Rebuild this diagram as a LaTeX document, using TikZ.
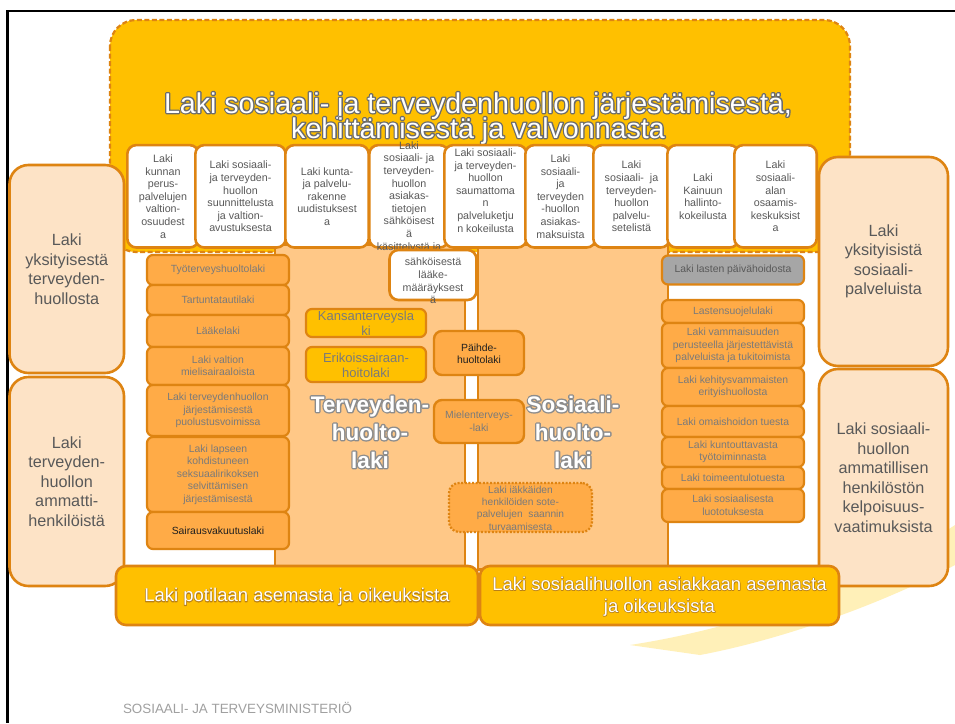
\documentclass[tikz,border=0pt]{standalone}
\usepackage{fontspec}
\setmainfont{Liberation Sans}
\definecolor{ylw}{HTML}{FFC000}
\definecolor{ob}{HTML}{DE8412}
\definecolor{lorg}{HTML}{FFC887}
\definecolor{morg}{HTML}{FFAB47}
\definecolor{peach}{HTML}{FDE3C6}
\definecolor{gbox}{HTML}{A6A6A6}
\definecolor{dgt}{HTML}{595959}
\definecolor{mgt}{HTML}{7A7A7A}
\definecolor{ftg}{HTML}{A0A0A0}
\definecolor{swoosh}{HTML}{FFF0B8}
% text with an outline outside the glyphs: stroked copy behind, filled copy on top
\newcommand\halo[3]{\rlap{\special{pdf:literal direct 1 Tr #1 w 1 j #2 RG}#3\special{pdf:literal direct 0 Tr 0.4 w 0 j}}#3}
\begin{document}
\begin{tikzpicture}[x=1pt,y=-1pt,
  every node/.style={inner sep=0pt, outer sep=0pt},
  bigframe/.style={draw=ob, line width=2.2pt, dash pattern=on 5pt off 2.5pt, fill=ylw, rounded corners=26pt},
  area/.style={draw=ob, line width=2.6pt, fill=lorg},
  topbox/.style={draw=ob, line width=2.6pt, fill=white, rounded corners=9pt, minimum height=102.4pt},
  toptxt/.style={align=center, text=dgt, font=\fontsize{10.7}{12.6}\selectfont},
  colbox/.style={draw=ob, line width=2.2pt, fill=morg, rounded corners=6pt, minimum width=142pt},
  coltxt/.style={align=center, text=mgt, font=\fontsize{10.4}{12.5}\selectfont},
  ybox/.style={draw=ob, line width=2.2pt, fill=ylw, rounded corners=6pt, minimum width=120pt},
  ytxt/.style={align=center, text=mgt, font=\fontsize{13}{14.7}\selectfont},
  obox/.style={draw=ob, line width=2.4pt, fill=morg, rounded corners=8pt, minimum width=90pt},
  side/.style={draw=ob, line width=2.6pt, fill=peach, rounded corners=19pt},
  sidetxt/.style={align=center, text=dgt, font=\fontsize{16.2}{19.5}\selectfont},
  bottom/.style={draw=ob, line width=2.6pt, fill=ylw, rounded corners=10pt, minimum height=59pt},
  bottxt/.style={align=center, text=white, font=\fontsize{18.5}{22}\selectfont},
  titlestyle/.style={anchor=base, text=white, font=\fontsize{28.6}{30}\selectfont},
  biglbl/.style={anchor=base, text=white, font=\bfseries\fontsize{22.5}{28}\selectfont}
]
\useasboundingbox (0,0) rectangle (955,723);
\fill[white] (0,0) rectangle (955,723);
% faint background swoosh
\fill[swoosh] (630,645) .. controls (760,625) and (880,575) .. (955,525) -- (955,565) .. controls (880,605) and (780,640) .. (700,655) -- cycle;
% frame lines
\draw[line width=2.6pt] (6,11) -- (955,11);
\draw[line width=3pt] (7.5,10) -- (7.5,723);

% big yellow frame
\draw[bigframe] (110,20) rectangle (850,252);

% title
\node[titlestyle] (ttl1) at (478,113) {\halo{2.6}{0.42 0.42 0.42}{Laki sosiaali- ja terveydenhuollon järjestämisestä,}};
\node[titlestyle] (ttl2) at (478,138) {\halo{2.6}{0.42 0.42 0.42}{kehittämisestä ja valvonnasta}};

% light orange areas
\node[area, minimum width=190pt, minimum height=325pt] (terv) at (370,407) {};
\node[area, minimum width=190pt, minimum height=325pt] (sos) at (573,407) {};

% top row boxes
\node[topbox, minimum width=71.4pt] (t1) at (163,196.3) {};
\node[topbox, minimum width=90.4pt] (t2) at (240.5,196.3) {};
\node[topbox, minimum width=83.4pt] (t3) at (327,196.3) {};
\node[topbox, minimum width=79.4pt] (t4) at (409,196.3) {};
\node[topbox, minimum width=82.4pt] (t5) at (485.5,196.3) {};
\node[topbox, minimum width=70.4pt] (t6) at (560.5,196.3) {};
\node[topbox, minimum width=76.4pt] (t7) at (631.5,196.3) {};
\node[topbox, minimum width=71.4pt] (t8) at (703,196.3) {};
\node[topbox, minimum width=82.4pt] (t9) at (775.5,196.3) {};

\node[toptxt] (t1x) at (163,196.5) {Laki\\kunnan\\perus-\\palvelujen\\valtion-\\osuudest\\a};
\node[toptxt] (t2x) at (240.5,196.5) {Laki sosiaali-\\ja terveyden-\\huollon\\suunnittelusta\\ja valtion-\\avustuksesta};
\node[toptxt] (t3x) at (327,196.5) {Laki kunta-\\ja palvelu-\\rakenne\\uudistuksest\\a};
\node[toptxt] (t4x) at (409,197) {Laki\\sosiaali- ja\\terveyden-\\huollon\\asiakas-\\tietojen\\sähköisest\\ä\\käsittelystä ja};
\node[toptxt] (t5x) at (485.5,190.5) {Laki sosiaali-\\ja terveyden-\\huollon\\saumattoma\\n\\palveluketju\\n kokeilusta};
\node[toptxt] (t6x) at (560.5,196.5) {Laki\\sosiaali-\\ja\\terveyden\\-huollon\\asiakas-\\maksuista};
\node[toptxt] (t7x) at (631.5,196.5) {Laki\\sosiaali-\ \ ja\\terveyden-\\huollon\\palvelu-\\setelistä};
\node[toptxt] (t8x) at (703,196.5) {Laki\\Kainuun\\hallinto-\\kokeilusta};
\node[toptxt] (t9x) at (775.5,196.5) {Laki\\sosiaali-\\alan\\osaamis-\\keskuksist\\a};

% box under t4
\node[topbox, minimum width=87pt, minimum height=50pt] (t10) at (433,275) {};
\node[toptxt] (t10x) at (433,281) {sähköisestä\\lääke-\\määräyksest\\ä};

% left column
\node[colbox, minimum height=30pt] (l1) at (218,270) {};
\node[coltxt] (l1x) at (l1) {Työterveyshuoltolaki};
\node[colbox, minimum height=30pt] (l2) at (218,300) {};
\node[coltxt] (l2x) at (l2) {Tartuntatautilaki};
\node[colbox, minimum height=32pt] (l3) at (218,331) {};
\node[coltxt] (l3x) at (l3) {Lääkelaki};
\node[colbox, minimum height=38pt] (l4) at (218,366) {};
\node[coltxt] (l4x) at (l4) {Laki valtion\\mielisairaaloista};
\node[colbox, minimum height=51pt] (l5) at (218,410.5) {};
\node[coltxt] (l5x) at (l5) {Laki terveydenhuollon\\järjestämisestä\\puolustusvoimissa};
\node[colbox, minimum height=75pt] (l6) at (218,474.5) {};
\node[coltxt] (l6x) at (l6) {Laki lapseen\\kohdistuneen\\seksuaalirikoksen\\selvittämisen\\järjestämisestä};
\node[colbox, minimum height=37pt] (l7) at (218,530.5) {};
\node[coltxt, text=black!88] (l7x) at (l7) {Sairausvakuutuslaki};

% right column
\node[colbox, fill=gbox, minimum height=29pt] (r0) at (733,270) {};
\node[coltxt, text=dgt] (r0x) at (r0) {Laki lasten päivähoidosta};
\node[colbox, minimum height=23pt] (r1) at (733,311.5) {};
\node[coltxt] (r1x) at (r1) {Lastensuojelulaki};
\node[colbox, minimum height=45pt] (r2) at (733,345.5) {};
\node[coltxt] (r2x) at (r2) {Laki vammaisuuden\\perusteella järjestettävistä\\palveluista ja tukitoimista};
\node[colbox, minimum height=38pt] (r3) at (733,387) {};
\node[coltxt] (r3x) at (r3) {Laki kehitysvammaisten\\erityishuollosta};
\node[colbox, minimum height=31pt] (r4) at (733,421.5) {};
\node[coltxt] (r4x) at (r4) {Laki omaishoidon tuesta};
\node[colbox, minimum height=30pt] (r5) at (733,452) {};
\node[coltxt] (r5x) at (r5) {Laki kuntouttavasta\\työtoiminnasta};
\node[colbox, minimum height=22pt] (r6) at (733,478) {};
\node[coltxt] (r6x) at (r6) {Laki toimeentulotuesta};
\node[colbox, minimum height=33pt] (r7) at (733,505.5) {};
\node[coltxt] (r7x) at (r7) {Laki sosiaalisesta\\luototuksesta};

% centre boxes
\node[ybox, minimum height=28pt] (k1) at (366,323) {};
\node[ytxt] (k1x) at (366,323.5) {Kansanterveysla\\ki};
\node[ybox, minimum height=35pt] (k2) at (366,364.5) {};
\node[ytxt] (k2x) at (366,365) {Erikoissairaan-\\hoitolaki};
\node[obox, minimum height=44pt] (p1) at (479,353) {};
\node[coltxt, text=black!88] (p1x) at (479,354) {Päihde-\\huoltolaki};
\node[obox, minimum height=43pt] (p2) at (479,421.5) {};
\node[coltxt] (p2x) at (479,421.5) {Mielenterveys-\\-laki};
\node[draw=ob, line width=2.2pt, dash pattern=on 2pt off 1.6pt, fill=morg, rounded corners=10pt, minimum width=143pt, minimum height=49pt] (iak) at (520.5,507.5) {};
\node[coltxt, font=\fontsize{10.2}{12.4}\selectfont] (iakx) at (520.5,508) {Laki iäkkäiden\\henkilöiden sote-\\palvelujen\ \ saannin\\turvaamisesta};

% big labels
\node[biglbl] (tl1) at (370,412) {\halo{2.8}{0.55 0.55 0.55}{Terveyden-}};
\node[biglbl] (tl2) at (370,440) {\halo{2.8}{0.55 0.55 0.55}{huolto-}};
\node[biglbl] (tl3) at (370,468) {\halo{2.8}{0.55 0.55 0.55}{laki}};
\node[biglbl] (sl1) at (573,412) {\halo{2.8}{0.55 0.55 0.55}{Sosiaali-}};
\node[biglbl] (sl2) at (573,440) {\halo{2.8}{0.55 0.55 0.55}{huolto-}};
\node[biglbl] (sl3) at (573,468) {\halo{2.8}{0.55 0.55 0.55}{laki}};

% side panels
\node[side, minimum width=114.5pt, minimum height=208pt] (sp1) at (66.75,269) {};
\node[sidetxt] (sp1x) at (sp1) {Laki\\yksityisestä\\terveyden-\\huollosta};
\node[side, minimum width=114.5pt, minimum height=209pt] (sp2) at (66.75,481.5) {};
\node[sidetxt] (sp2x) at (sp2) {Laki\\terveyden-\\huollon\\ammatti-\\henkilöistä};
\node[side, minimum width=129pt, minimum height=209pt] (sp3) at (883.5,261.5) {};
\node[sidetxt] (sp3x) at (sp3) {Laki\\yksityisistä\\sosiaali-\\palveluista};
\node[side, minimum width=129pt, minimum height=217pt] (sp4) at (883.5,477.5) {};
\node[sidetxt] (sp4x) at (sp4) {Laki sosiaali-\\huollon\\ammatillisen\\henkilöstön\\kelpoisuus-\\vaatimuksista};

% bottom boxes
\node[bottom, minimum width=362pt] (bl) at (297,595.5) {};
\node[bottom, minimum width=359pt] (br) at (659.5,595.5) {};
\node[bottxt] (blx) at (297,597) {\halo{1.2}{0.72 0.5 0.1}{Laki potilaan asemasta ja oikeuksista}};
\node[bottxt] (brx) at (659.5,596.5) {\halo{1.2}{0.72 0.5 0.1}{Laki sosiaalihuollon asiakkaan asemasta}\\\halo{1.2}{0.72 0.5 0.1}{ja oikeuksista}};

% footer
\node[anchor=base west, text=ftg, font=\fontsize{13.4}{14}\selectfont] (foot) at (123,713) {SOSIAALI- JA TERVEYSMINISTERIÖ};
\end{tikzpicture}
\end{document}
